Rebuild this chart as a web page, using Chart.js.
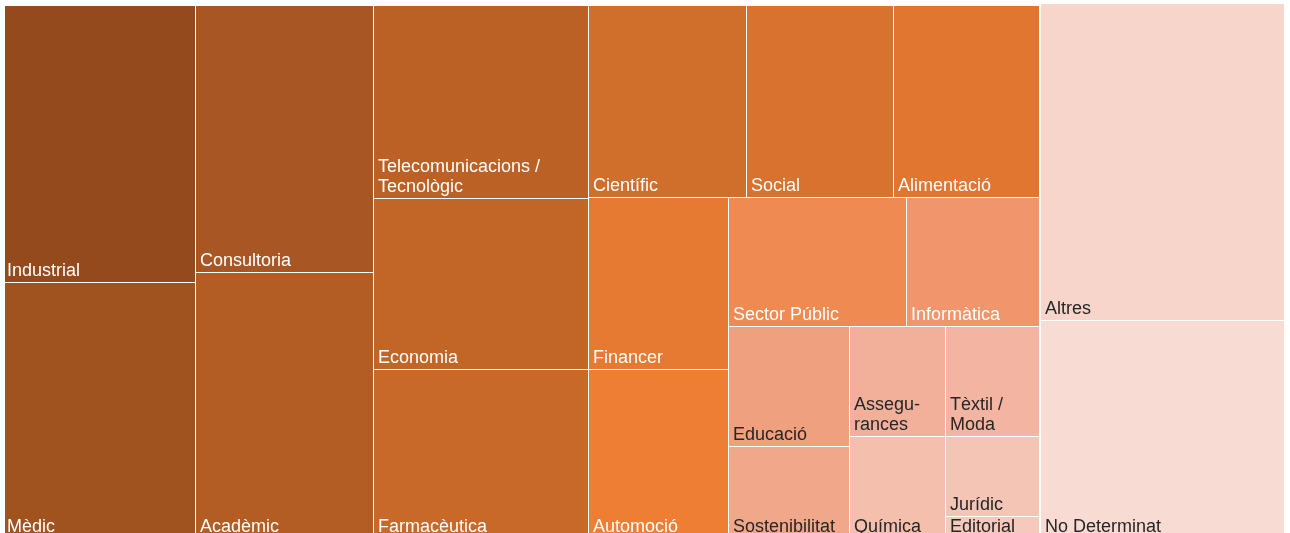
<!DOCTYPE html>
<html lang="ca">
<head>
<meta charset="utf-8">
<title>Sectors</title>
<script src="https://cdn.jsdelivr.net/npm/chart.js@4/dist/chart.umd.min.js"></script>
<style>
    html, body { margin: 0; padding: 0; background: #fff; overflow: hidden; }
    #wrap { width: 1290px; height: 543px; }
</style>
</head>
<body>
<div id="wrap"><canvas id="treemap"></canvas></div>
<script>
// Sectors, in the order they are laid out (labels keep their line breaks)
const sectors = [
    'Industrial', 'Mèdic', 'Consultoria', 'Acadèmic',
    'Telecomunicacions /\nTecnològic', 'Economia', 'Farmacèutica',
    'Científic', 'Social', 'Alimentació', 'Financer', 'Automoció',
    'Sector Públic', 'Informàtica', 'Educació', 'Sostenibilitat',
    'Assegu-\nrances', 'Tèxtil /\nModa', 'Química', 'Jurídic', 'Editorial'
];
const sectorValues = [
    96.3, 88.7, 86.2, 85.8, 75.1, 66.8, 65.9,
    54.7, 51.0, 50.7, 43.9, 42.8, 41.8, 31.1,
    26.3, 20.2, 19.1, 18.8, 17.6, 13.6, 3.7
];

// Second block, drawn apart on the right
const others = ['Altres', 'No Determinat'];
const otherValues = [140.5, 96.7];

// Colours, same order as the labels
const sectorColors = [
    '#944a1c', '#a0521f', '#a85624', '#b35c24', '#bc6126', '#c26628', '#c8692a',
    '#d06e2c', '#d8722e', '#e07630', '#e77a32', '#ee7e34', '#ef8a52', '#f0956c',
    '#efa07e', '#f1a78a', '#f2b09a', '#f3b5a1', '#f4bfad', '#f4c5b5', '#f5cabc'
];
const otherColors = ['#f7d5ca', '#f8dcd4'];

const sum = (arr) => arr.reduce((a, b) => a + b, 0);

// squarified layout (ratio 1), keeps the given order
function squarify(values, x0, y0, x1, y1) {
    const rects = [];
    const n = values.length;
    let total = sum(values);
    let i0 = 0;

    while (i0 < n) {
        const dx = x1 - x0;
        const dy = y1 - y0;
        let i1 = i0;
        let rowSum = values[i1++];
        let minV = rowSum;
        let maxV = rowSum;
        const alpha = Math.max(dy / dx, dx / dy) / total;
        let beta = rowSum * rowSum * alpha;
        let minRatio = Math.max(maxV / beta, beta / minV);

        for (; i1 < n; i1++) {
            const v = values[i1];
            rowSum += v;
            if (v < minV) minV = v;
            if (v > maxV) maxV = v;
            beta = rowSum * rowSum * alpha;
            const ratio = Math.max(maxV / beta, beta / minV);
            if (ratio > minRatio) {
                rowSum -= v;
                break;
            }
            minRatio = ratio;
        }

        if (dx < dy) {
            const yy = y0 + dy * rowSum / total;
            let xx = x0;
            for (let i = i0; i < i1; i++) {
                const w = dx * values[i] / rowSum;
                rects[i] = { x0: xx, y0: y0, x1: xx + w, y1: yy };
                xx += w;
            }
            y0 = yy;
        } else {
            const xx = x0 + dx * rowSum / total;
            let yy = y0;
            for (let i = i0; i < i1; i++) {
                const h = dy * values[i] / rowSum;
                rects[i] = { x0: x0, y0: yy, x1: xx, y1: yy + h };
                yy += h;
            }
            x0 = xx;
        }

        total -= rowSum;
        i0 = i1;
    }
    return rects;
}

function luminance(hex) {
    const r = parseInt(hex.slice(1, 3), 16);
    const g = parseInt(hex.slice(3, 5), 16);
    const b = parseInt(hex.slice(5, 7), 16);
    return 0.299 * r + 0.587 * g + 0.114 * b;
}

function drawCells(ctx, labels, values, colors, x0, y0, x1, y1, chartLeft) {
    const rects = squarify(values, x0, y0, x1, y1);

    rects.forEach((r, i) => {
        const px0 = Math.round(r.x0);
        const px1 = Math.round(r.x1);
        const py0 = Math.round(r.y0);
        const py1 = Math.round(r.y1);

        ctx.fillStyle = colors[i];
        ctx.fillRect(px0, py0, px1 - px0 - 1, py1 - py0 - 1);

        // labels sit bottom-left, a bit tighter on the outer edge
        const textX = px0 + (px0 <= chartLeft ? 2 : 4);
        const lines = labels[i].split('\n');
        ctx.fillStyle = luminance(colors[i]) > 176 ? '#262626' : '#ffffff';
        lines.forEach((line, k) => {
            const baseline = py1 - 7 - (lines.length - 1 - k) * 20;
            ctx.fillText(line, textX, baseline);
        });
    });
}

const treemapPlugin = {
    id: 'treemap',
    afterDatasetsDraw(chart) {
        const { ctx } = chart;
        const { x, y } = chart.scales;
        const left = x.getPixelForValue(0);
        const right = x.getPixelForValue(1);
        const top = y.getPixelForValue(1);
        const bottom = y.getPixelForValue(0);

        const groups = squarify([sum(sectorValues), sum(otherValues)], left, top, right, bottom);

        ctx.save();
        ctx.font = '18px "Liberation Sans", Arial, sans-serif';
        ctx.textAlign = 'left';
        ctx.textBaseline = 'alphabetic';

        const g1 = groups[0];
        drawCells(ctx, sectors, sectorValues, sectorColors, g1.x0, g1.y0 + 2, g1.x1, g1.y1, left);

        const g2 = groups[1];
        drawCells(ctx, others, otherValues, otherColors, g2.x0 + 1, g2.y0, g2.x1, g2.y1, left);

        ctx.restore();
    }
};

new Chart(document.getElementById('treemap'), {
    type: 'scatter',
    data: {
        datasets: [{ data: [] }]
    },
    options: {
        responsive: true,
        maintainAspectRatio: false,
        animation: false,
        layout: {
            padding: { left: 5, right: 5, top: 4, bottom: 4 }
        },
        plugins: {
            legend: { display: false },
            tooltip: { enabled: false }
        },
        scales: {
            x: { type: 'linear', min: 0, max: 1, display: false },
            y: { type: 'linear', min: 0, max: 1, display: false }
        }
    },
    plugins: [treemapPlugin]
});
</script>
</body>
</html>
